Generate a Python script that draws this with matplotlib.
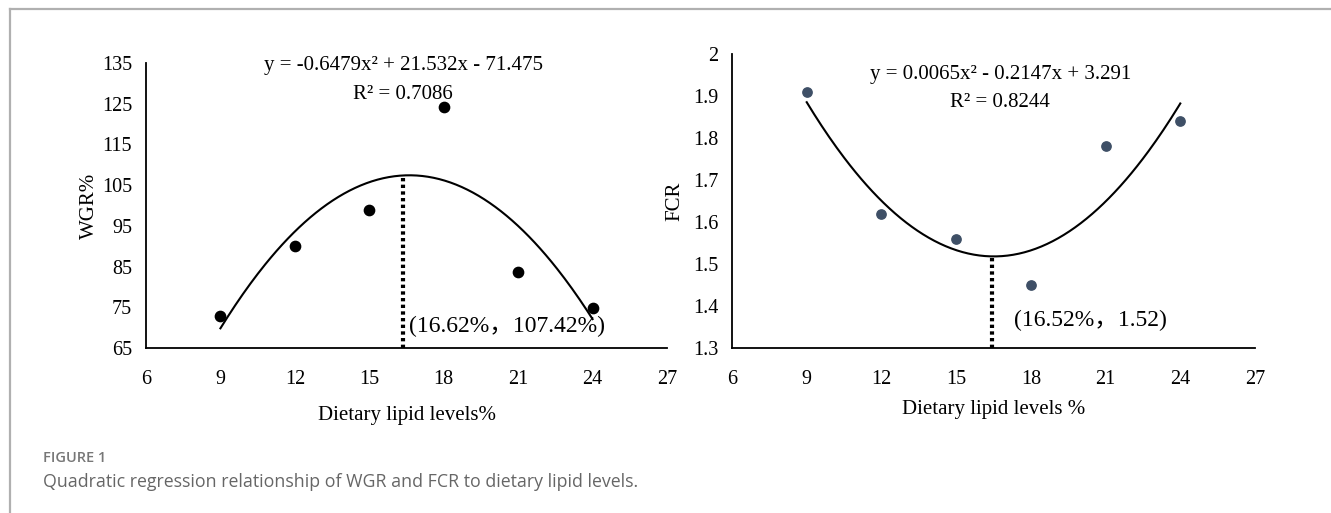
import numpy as np
import matplotlib
matplotlib.use("Agg")
import matplotlib.pyplot as plt
from matplotlib.lines import Line2D

# ---- data ----
lipid_levels = [9, 12, 15, 18, 21, 24]
wgr_values = [72.9, 90.0, 98.8, 124.2, 83.7, 74.8]
fcr_values = [1.91, 1.62, 1.56, 1.45, 1.78, 1.84]
wgr_coef = [-0.6479, 21.532, -71.475]
fcr_coef = [0.0065, -0.2147, 3.291]
wgr_opt = (16.35, 107.42)   # dotted marker line as drawn in the picture
fcr_opt = (16.45, 1.52)
x_ticks = [6, 9, 12, 15, 18, 21, 24, 27]
wgr_ticks = [65, 75, 85, 95, 105, 115, 125, 135]
fcr_ticks = [1.3, 1.4, 1.5, 1.6, 1.7, 1.8, 1.9, 2]
fcr_tick_labels = ["1.3", "1.4", "1.5", "1.6", "1.7", "1.8", "1.9", "2"]
wgr_eq = "y = -0.6479x² + 21.532x - 71.475"
wgr_r2 = "R² = 0.7086"
fcr_eq = "y = 0.0065x² - 0.2147x + 3.291"
fcr_r2 = "R² = 0.8244"
wgr_annot = "(16.62%，107.42%)"
fcr_annot = "(16.52%，1.52)"

SERIF = ["Liberation Serif", "Noto Sans CJK SC", "DejaVu Serif"]
plt.rcParams["font.family"] = SERIF

W, H = 1331, 513
fig = plt.figure(figsize=(W / 100, H / 100), dpi=100)
fig.patch.set_facecolor("white")

# outer frame lines (top and left)
fig.add_artist(Line2D([10 / W, 1.0], [1 - 9 / H, 1 - 9 / H], color="#b0b0b0", lw=1.6))
fig.add_artist(Line2D([10 / W, 10 / W], [0, 1 - 9 / H], color="#b0b0b0", lw=1.6))


def style_axes(ax):
    for s in ["top", "right"]:
        ax.spines[s].set_visible(False)
    ax.spines["left"].set_linewidth(1.3)
    ax.spines["bottom"].set_linewidth(1.3)
    ax.tick_params(axis="y", length=0, labelsize=14.5, pad=10)
    ax.tick_params(axis="x", length=0, labelsize=14.5, pad=16)
    ax.set_xlim(6, 27)
    ax.set_xticks(x_ticks)


# ---- left panel: WGR ----
ax1 = fig.add_axes([146 / W, 1 - 348 / H, (667 - 146) / W, (348 - 63) / H])
style_axes(ax1)
ax1.set_ylim(65, 135)
ax1.set_yticks(wgr_ticks)
xs = np.linspace(9, 24, 200)
ax1.plot(xs, np.polyval(wgr_coef, xs), color="black", lw=1.5)
ax1.scatter(lipid_levels, wgr_values, s=55, color="black", zorder=3)
ax1.plot([wgr_opt[0], wgr_opt[0]], [65, wgr_opt[1]], color="black", lw=3,
         linestyle=(0, (0.8, 0.8)))
ax1.text(16.36, 134.3, wgr_eq, ha="center", va="center", fontsize=15)
ax1.text(16.36, 127.3, wgr_r2, ha="center", va="center", fontsize=15)
ax1.text(16.62, 70.3, wgr_annot, ha="left", va="center", fontsize=17)
ax1.set_ylabel("WGR%", fontsize=15, labelpad=2)
ax1.set_xlabel("Dietary lipid levels%", fontsize=15, labelpad=12)

# ---- right panel: FCR ----
ax2 = fig.add_axes([732 / W, 1 - 348 / H, (1255 - 732) / W, (348 - 54) / H])
style_axes(ax2)
ax2.set_ylim(1.3, 2.0)
ax2.set_yticks(fcr_ticks)
ax2.set_yticklabels(fcr_tick_labels)
ax2.plot(xs, np.polyval(fcr_coef, xs), color="black", lw=1.5)
ax2.scatter(lipid_levels, fcr_values, s=45, color="#3e4f66", zorder=3)
ax2.plot([fcr_opt[0], fcr_opt[0]], [1.3, fcr_opt[1]], color="black", lw=3,
         linestyle=(0, (0.8, 0.8)))
ax2.text(16.77, 1.95, fcr_eq, ha="center", va="center", fontsize=15)
ax2.text(16.77, 1.884, fcr_r2, ha="center", va="center", fontsize=15)
ax2.text(17.32, 1.365, fcr_annot, ha="left", va="center", fontsize=17)
ax2.set_ylabel("FCR", fontsize=15, labelpad=6)
ax2.set_xlabel("Dietary lipid levels %", fontsize=15, labelpad=8)

# ---- caption ----
fig.text(43 / W, 1 - 458 / H, "FIGURE 1", fontsize=10.5, color="#777777",
         family=["Open Sans", "DejaVu Sans"], weight="semibold",
         va="center", ha="left")
fig.text(43 / W, 1 - 482 / H,
         "Quadratic regression relationship of WGR and FCR to dietary lipid levels.",
         fontsize=12.8, color="#666666", family=["Open Sans", "DejaVu Sans"],
         va="center", ha="left")

fig.savefig("out.png", dpi=100, facecolor="white")
